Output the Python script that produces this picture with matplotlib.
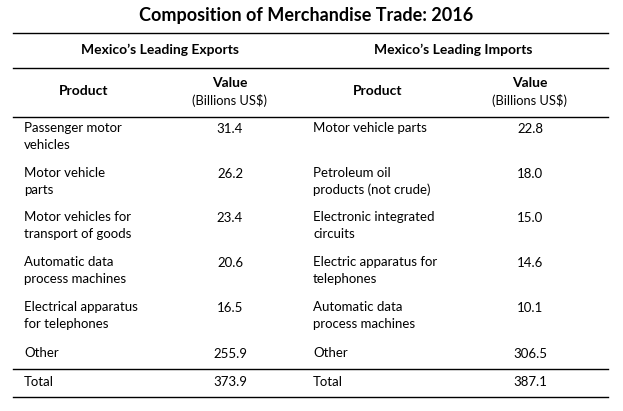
import matplotlib.pyplot as plt

plt.rcParams['font.family'] = ['Lato', 'DejaVu Sans']

title = 'Composition of Merchandise Trade: 2016'
export_products = ['Passenger motor\nvehicles', 'Motor vehicle\nparts', 'Motor vehicles for\ntransport of goods',
                   'Automatic data\nprocess machines', 'Electrical apparatus\nfor telephones', 'Other']
export_values = ['31.4', '26.2', '23.4', '20.6', '16.5', '255.9']
import_products = ['Motor vehicle parts', 'Petroleum oil\nproducts (not crude)', 'Electronic integrated\ncircuits',
                   'Electric apparatus for\ntelephones', 'Automatic data\nprocess machines', 'Other']
import_values = ['22.8', '18.0', '15.0', '14.6', '10.1', '306.5']
totals = ['373.9', '387.1']

row_y = [129, 174, 218, 263, 308, 354]

fig = plt.figure(figsize=(6.23, 4.11), dpi=100)
ax = fig.add_axes([0, 0, 1, 1])
ax.set_xlim(0, 623)
ax.set_ylim(411, 0)
ax.axis('off')

ax.text(306, 15, title, ha='center', va='center', fontsize=13, fontweight='bold')
for y in [33, 68, 117, 369, 397]:
    ax.plot([13, 608], [y, y], color='black', lw=1)

ax.text(160, 50, 'Mexico\u2019s Leading Exports', ha='center', va='center', fontsize=10, fontweight='bold')
ax.text(453, 50, 'Mexico\u2019s Leading Imports', ha='center', va='center', fontsize=10, fontweight='bold')
for px, vx in [(84, 230), (378, 530)]:
    ax.text(px, 91, 'Product', ha='center', va='center', fontsize=10, fontweight='bold')
    ax.text(vx, 83, 'Value', ha='center', va='center', fontsize=10, fontweight='bold')
    ax.text(vx, 100, '(Billions US$)', ha='center', va='center', fontsize=9.3)

fs = 9.5
for i, y in enumerate(row_y):
    ax.text(24, y - 7, export_products[i], ha='left', va='top', fontsize=fs, linespacing=1.45)
    ax.text(230, y, export_values[i], ha='center', va='center', fontsize=fs)
    ax.text(313, y - 7, import_products[i], ha='left', va='top', fontsize=fs, linespacing=1.45)
    ax.text(530, y, import_values[i], ha='center', va='center', fontsize=fs)

ax.text(24, 382, 'Total', ha='left', va='center', fontsize=fs)
ax.text(230, 382, totals[0], ha='center', va='center', fontsize=fs)
ax.text(313, 382, 'Total', ha='left', va='center', fontsize=fs)
ax.text(530, 382, totals[1], ha='center', va='center', fontsize=fs)

fig.savefig('out.png', dpi=100)
